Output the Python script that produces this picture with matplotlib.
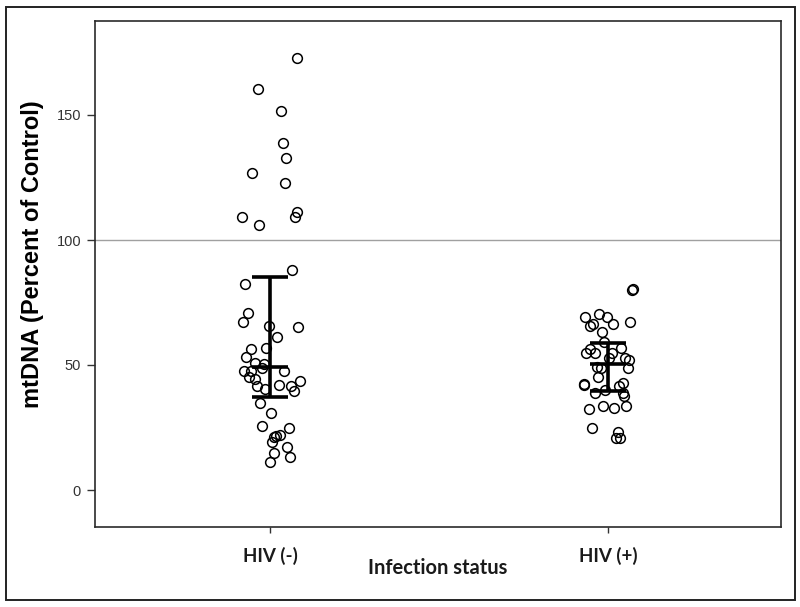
import matplotlib
matplotlib.use("Agg")
import matplotlib.pyplot as plt
from matplotlib.patches import Rectangle
import numpy as np

categories = ["HIV (-)", "HIV (+)"]

# HIV (-) points: jitter offsets (category units) and values
neg_x = [0.079, -0.036, 0.033, 0.037, 0.048, -0.052, 0.045, 0.079, 0.074, -0.084, -0.033,
         0.066, -0.073, -0.065, -0.081, -0.003, 0.084, 0.022, -0.055, -0.012, -0.070, -0.044,
         -0.018, -0.025, -0.078, -0.057, 0.040, -0.061, -0.046, 0.026, 0.061, 0.088, -0.039,
         -0.015, 0.071, -0.029, 0.004, -0.023, 0.055, 0.030, 0.018, 0.012, 0.007, 0.051, 0.012, 0.058, 0.000]
neg_y = [172.7, 160.3, 151.5, 138.9, 132.7, 126.7, 122.7, 111.1, 109.3, 109.3, 105.9,
         88.0, 82.3, 70.9, 67.3, 65.7, 65.3, 61.3, 56.4, 56.9, 53.3, 50.7,
         50.3, 48.7, 47.7, 47.7, 47.7, 45.1, 44.3, 42.1, 41.7, 43.6, 41.7,
         40.3, 39.5, 34.7, 30.7, 25.7, 24.7, 21.9, 21.7, 21.3, 19.2, 17.3, 14.9, 13.3, 11.1]

pos_x = [-0.067, -0.026, -0.003, -0.044, -0.052, 0.015, 0.066, -0.018, -0.011, 0.038, -0.052,
         -0.064, -0.039, 0.012, 0.051, 0.063, 0.002, -0.033, -0.021, 0.059, -0.030, -0.072,
         -0.070, 0.044, 0.032, -0.037, -0.008, 0.044, 0.048, -0.057, -0.016, 0.017, 0.054,
         -0.048, 0.030, 0.024, 0.035, 0.071, 0.073]
pos_y = [69.3, 70.4, 69.3, 66.4, 65.7, 66.4, 67.3, 63.3, 59.1, 56.9, 56.4,
         54.7, 54.9, 54.9, 52.7, 52.0, 52.7, 49.3, 48.7, 48.9, 45.3, 42.4,
         41.9, 42.9, 41.6, 38.9, 40.0, 38.9, 37.6, 32.3, 33.6, 32.7, 33.6,
         24.9, 23.3, 20.9, 20.9, 80.0, 80.3]

# summary bars: center, lower, upper
centers = [49.3, 50.3]
lowers = [37.3, 39.6]
uppers = [85.3, 58.9]

fig = plt.figure(figsize=(8.0, 6.07), dpi=100)
fig.patches.append(Rectangle((6/800, 1-600/607), (795-6)/800, (600-7)/607,
                             transform=fig.transFigure, fill=False, edgecolor="#222222",
                             linewidth=1.4, zorder=0))
ax = fig.add_axes([95/800, 1-527/607, (781-95)/800, (527-21)/607])

ax.axhline(100, color="#a0a0a0", linewidth=1.0, zorder=1)

ax.plot(1 + np.array(neg_x), neg_y, linestyle="none", marker="o", markersize=7,
        markerfacecolor="none", markeredgecolor="black", markeredgewidth=1.1, zorder=2)
ax.plot(2 + np.array(pos_x), pos_y, linestyle="none", marker="o", markersize=7,
        markerfacecolor="none", markeredgecolor="black", markeredgewidth=1.1, zorder=2)

hw = 0.054
for i, (c, lo, hi) in enumerate(zip(centers, lowers, uppers)):
    xc = i + 1
    ax.plot([xc, xc], [lo, hi], color="black", linewidth=2.6, zorder=3, solid_capstyle="butt")
    for v in (lo, c, hi):
        ax.plot([xc - hw, xc + hw], [v, v], color="black", linewidth=2.6, zorder=3,
                solid_capstyle="butt")

ax.set_xlim(0.482, 2.512)
ax.set_ylim(-14.8, 187.6)
ax.set_yticks([0, 50, 100, 150])
ax.set_xticks([1, 2])
ax.set_xticklabels(categories, fontfamily="Lato", fontweight="bold", fontsize=13.5, color="#1a1a1a")
for lab in ax.get_yticklabels():
    lab.set_fontfamily("Liberation Sans")
    lab.set_fontsize(10.5)
    lab.set_color("#333333")
ax.tick_params(axis="y", length=6, width=1, pad=4, color="#333333")
ax.tick_params(axis="x", length=4, width=1, pad=10.5, color="#333333")
for s in ax.spines.values():
    s.set_color("#2a2a2a")
    s.set_linewidth(1.2)

ax.set_ylabel("mtDNA (Percent of Control)", fontfamily="Liberation Sans", fontweight="bold",
              fontsize=17, color="black")
ax.yaxis.set_label_coords((44 - 95) / 686, (527 - 254) / 506)
ax.set_xlabel("Infection status", fontfamily="Lato", fontweight="bold", fontsize=14.5, color="#1a1a1a",
              va="center")
ax.xaxis.set_label_coords(0.5, (527 - 568) / 506)

fig.savefig("out.png", dpi=100)
